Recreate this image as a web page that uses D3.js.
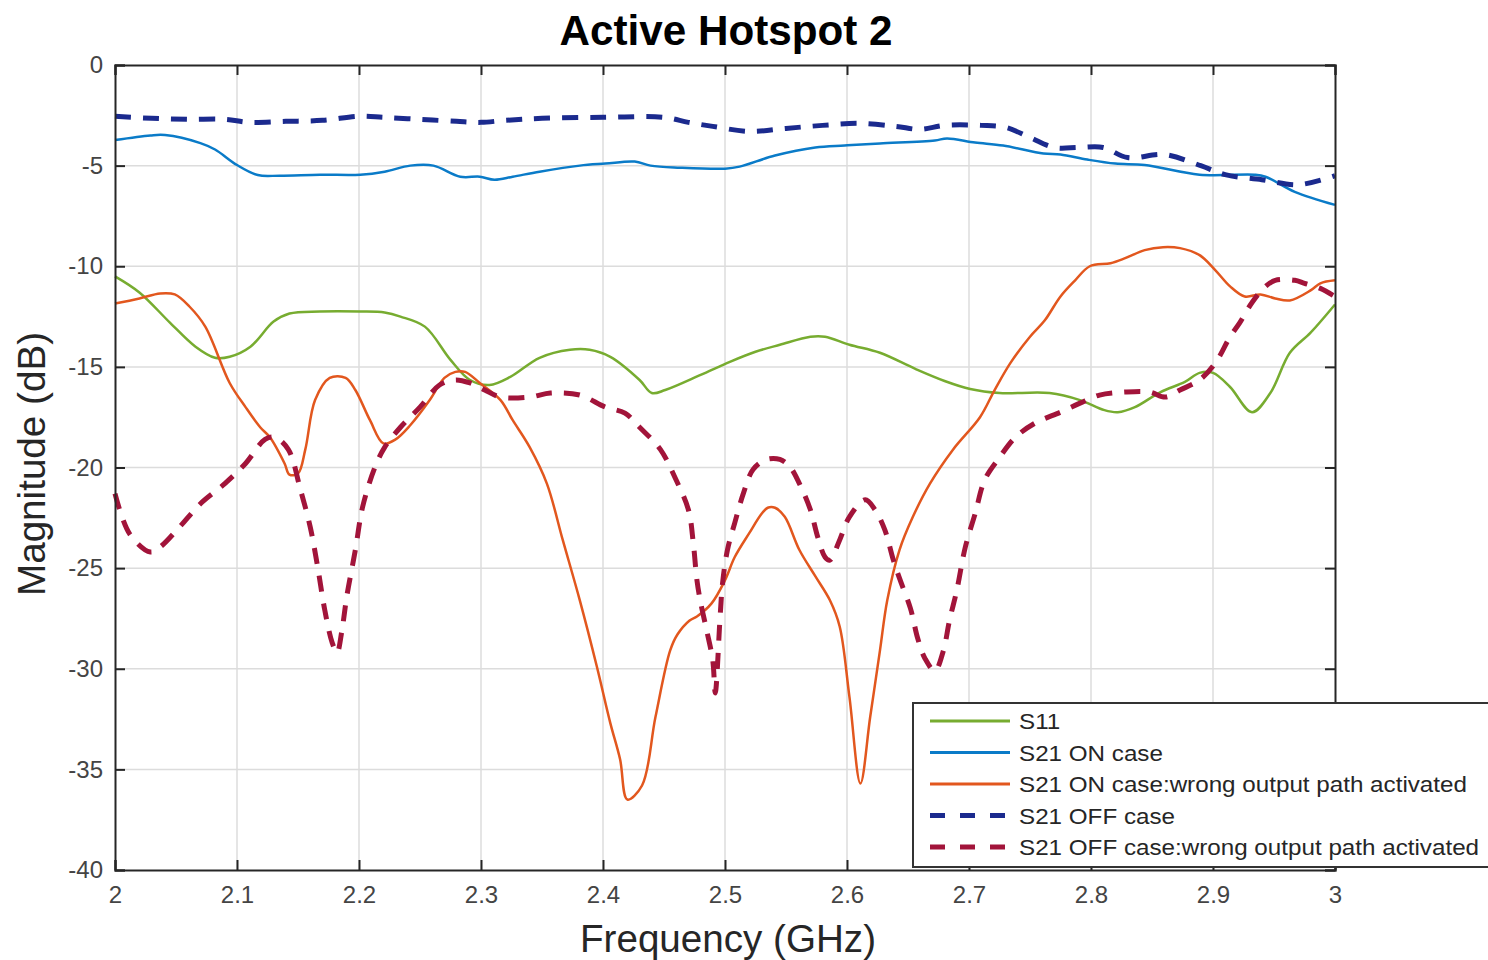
<!DOCTYPE html>
<html>
<head>
<meta charset="utf-8">
<script src="https://cdn.jsdelivr.net/npm/d3@7"></script>
<style>
  html, body { margin: 0; padding: 0; background: #fff; overflow: hidden; }
  svg { display: block; font-family: "Liberation Sans", Arial, Helvetica, sans-serif; }
</style>
</head>
<body>
<svg id="chart" width="1488" height="960"></svg>
<script>
// ---------- data ----------
const title = "Active Hotspot 2";
const xLabel = "Frequency (GHz)";
const yLabel = "Magnitude (dB)";
const xTicks = [2, 2.1, 2.2, 2.3, 2.4, 2.5, 2.6, 2.7, 2.8, 2.9, 3];
const yTicks = [0, -5, -10, -15, -20, -25, -30, -35, -40];
const seriesNames = ["S11", "S21 ON case", "S21 ON case:wrong output path activated", "S21 OFF case", "S21 OFF case:wrong output path activated"];

const s11Freq = [2.000,2.020,2.045,2.066,2.082,2.094,2.111,2.130,2.143,2.168,2.201,2.221,2.234,2.254,2.275,2.291,2.307,2.324,2.348,2.373,2.389,2.406,2.430,2.440,2.451,2.480,2.504,2.525,2.545,2.570,2.582,2.602,2.627,2.656,2.680,2.701,2.725,2.766,2.791,2.811,2.822,2.836,2.857,2.877,2.889,2.900,2.914,2.932,2.947,2.963,2.980,3.000];
const s11 = [-10.5,-11.3,-12.8,-14.0,-14.55,-14.5,-14.0,-12.75,-12.35,-12.25,-12.25,-12.3,-12.5,-13.0,-14.65,-15.65,-15.9,-15.5,-14.55,-14.15,-14.15,-14.5,-15.65,-16.3,-16.15,-15.4,-14.75,-14.25,-13.9,-13.5,-13.5,-13.9,-14.3,-15.1,-15.7,-16.1,-16.3,-16.3,-16.65,-17.15,-17.25,-17.0,-16.25,-15.75,-15.3,-15.3,-16.0,-17.25,-16.3,-14.3,-13.3,-11.9];

const onFreq = [2.000,2.029,2.041,2.070,2.082,2.100,2.117,2.135,2.168,2.201,2.221,2.242,2.261,2.283,2.299,2.311,2.326,2.348,2.381,2.402,2.426,2.439,2.463,2.500,2.512,2.541,2.574,2.598,2.627,2.672,2.682,2.705,2.728,2.761,2.775,2.797,2.820,2.844,2.889,2.934,2.943,2.967,3.000];
const onCase = [-3.73,-3.5,-3.48,-3.88,-4.2,-4.97,-5.47,-5.5,-5.45,-5.45,-5.3,-5.0,-5.0,-5.55,-5.55,-5.7,-5.55,-5.3,-5.0,-4.9,-4.8,-5.0,-5.1,-5.15,-5.05,-4.5,-4.1,-4.0,-3.9,-3.75,-3.65,-3.85,-4.0,-4.4,-4.45,-4.7,-4.9,-4.97,-5.45,-5.45,-5.55,-6.3,-6.95];

const onWrongFreq = [2.000,2.020,2.037,2.049,2.061,2.074,2.094,2.107,2.119,2.127,2.139,2.143,2.150,2.156,2.164,2.176,2.189,2.197,2.209,2.220,2.230,2.242,2.258,2.270,2.279,2.287,2.299,2.316,2.326,2.340,2.354,2.367,2.381,2.395,2.406,2.414,2.420,2.432,2.443,2.455,2.461,2.471,2.477,2.489,2.500,2.508,2.520,2.530,2.535,2.541,2.549,2.561,2.574,2.586,2.594,2.602,2.611,2.619,2.627,2.633,2.643,2.654,2.668,2.687,2.709,2.721,2.734,2.750,2.762,2.775,2.787,2.799,2.816,2.828,2.844,2.859,2.873,2.889,2.902,2.914,2.926,2.939,2.951,2.963,2.980,2.988,3.000];
const onWrong = [-11.85,-11.6,-11.35,-11.4,-12.0,-13.0,-15.8,-17.0,-18.0,-18.5,-19.8,-20.35,-20.3,-19.1,-16.65,-15.55,-15.55,-16.15,-17.65,-18.8,-18.6,-17.9,-16.65,-15.55,-15.25,-15.25,-15.8,-16.65,-17.65,-19.0,-20.8,-23.6,-26.6,-29.9,-32.7,-34.5,-36.5,-35.8,-32.4,-29.1,-28.3,-27.6,-27.4,-26.75,-25.6,-24.45,-23.25,-22.3,-22.0,-22.0,-22.45,-24.1,-25.4,-26.6,-27.9,-31.4,-35.7,-32.4,-29.1,-26.6,-24.1,-22.45,-20.8,-19.1,-17.5,-16.15,-14.8,-13.5,-12.7,-11.5,-10.7,-10.0,-9.85,-9.6,-9.2,-9.05,-9.1,-9.45,-10.2,-11.0,-11.5,-11.4,-11.6,-11.7,-11.2,-10.85,-10.7];

const offFreq = [2.000,2.030,2.060,2.090,2.110,2.140,2.170,2.200,2.220,2.250,2.280,2.300,2.320,2.350,2.400,2.450,2.470,2.490,2.520,2.550,2.580,2.610,2.640,2.660,2.680,2.710,2.730,2.750,2.770,2.790,2.810,2.830,2.860,2.890,2.910,2.940,2.970,3.000];
const offCase = [-2.55,-2.65,-2.7,-2.7,-2.85,-2.8,-2.75,-2.55,-2.6,-2.7,-2.8,-2.85,-2.75,-2.65,-2.6,-2.6,-2.85,-3.05,-3.3,-3.15,-3.0,-2.9,-3.05,-3.2,-3.0,-3.0,-3.1,-3.6,-4.1,-4.1,-4.1,-4.6,-4.45,-5.0,-5.45,-5.7,-5.95,-5.5];

const offWrongFreq = [2.000,2.012,2.029,2.037,2.053,2.070,2.090,2.107,2.123,2.131,2.142,2.152,2.160,2.166,2.172,2.178,2.182,2.186,2.190,2.197,2.203,2.213,2.221,2.234,2.250,2.266,2.279,2.291,2.303,2.316,2.340,2.357,2.381,2.402,2.418,2.430,2.447,2.459,2.470,2.474,2.477,2.480,2.485,2.490,2.492,2.496,2.498,2.502,2.508,2.515,2.523,2.534,2.545,2.553,2.561,2.570,2.576,2.582,2.586,2.594,2.602,2.615,2.623,2.631,2.638,2.643,2.652,2.658,2.664,2.672,2.679,2.684,2.690,2.697,2.705,2.713,2.725,2.738,2.754,2.775,2.791,2.807,2.828,2.848,2.861,2.873,2.889,2.902,2.914,2.922,2.932,2.943,2.951,2.967,2.975,2.988,3.000];
const offWrong = [-21.3,-23.3,-24.2,-23.95,-22.95,-21.8,-20.8,-19.8,-18.6,-18.5,-19.1,-21.1,-22.95,-24.9,-27.1,-28.7,-29.2,-28.1,-26.4,-24.1,-21.95,-20.0,-19.0,-18.0,-17.0,-15.9,-15.65,-15.8,-16.15,-16.5,-16.5,-16.3,-16.4,-17.0,-17.3,-18.0,-19.1,-20.5,-22.1,-23.75,-25.6,-26.7,-28.1,-29.6,-31.2,-27.4,-25.75,-24.1,-22.75,-21.3,-20.1,-19.6,-19.6,-19.95,-20.8,-22.1,-23.45,-24.45,-24.6,-23.6,-22.45,-21.6,-22.1,-23.1,-24.6,-25.5,-27.0,-28.5,-29.5,-30.1,-29.1,-27.6,-26.1,-23.95,-22.3,-20.6,-19.5,-18.5,-17.8,-17.25,-16.8,-16.4,-16.25,-16.25,-16.5,-16.15,-15.65,-14.8,-13.5,-12.8,-11.8,-11.0,-10.7,-10.7,-10.85,-11.1,-11.5];

// ---------- layout ----------
const svg = d3.select("#chart");
const L = 115, R = 1335, T = 65, B = 870;
const x = d3.scaleLinear().domain([2, 3]).range([L, R]);
const y = d3.scaleLinear().domain([-40, 0]).range([B, T]);

const textColor = "#262626";
const axisColor = "#262626";

function stretchTo(sel, target) {
  sel.each(function () {
    d3.select(this).attr("textLength", target).attr("lengthAdjust", "spacingAndGlyphs");
  });
}
function stretchBy(sel, k) {
  sel.each(function () {
    const w = this.getComputedTextLength();
    d3.select(this).attr("textLength", w * k).attr("lengthAdjust", "spacingAndGlyphs");
  });
}

// grid
const grid = svg.append("g");
grid.selectAll("line.vx").data(xTicks.slice(1, -1)).join("line")
  .attr("x1", d => x(d)).attr("x2", d => x(d)).attr("y1", T).attr("y2", B)
  .attr("stroke", "#dcdcdc").attr("stroke-width", 1.5);
grid.selectAll("line.hy").data(yTicks.slice(1, -1)).join("line")
  .attr("x1", L).attr("x2", R).attr("y1", d => y(d)).attr("y2", d => y(d))
  .attr("stroke", "#dcdcdc").attr("stroke-width", 1.5);

// series
const series = [
  { name: seriesNames[0], f: s11Freq, v: s11, color: "#77AC30", width: 2.5, dash: null },
  { name: seriesNames[1], f: onFreq, v: onCase, color: "#0A7BC8", width: 2.5, dash: null },
  { name: seriesNames[2], f: onWrongFreq, v: onWrong, color: "#E2571E", width: 2.5, dash: null },
  { name: seriesNames[3], f: offFreq, v: offCase, color: "#1B2A8E", width: 5, dash: "16,12" },
  { name: seriesNames[4], f: offWrongFreq, v: offWrong, color: "#A2143A", width: 5, dash: "16,12" }
];

const line = d3.line().x(d => x(d[0])).y(d => y(d[1])).curve(d3.curveCatmullRom.alpha(0.5));
const plot = svg.append("g");
series.forEach(s => {
  const pts = s.f.map((f, i) => [f, s.v[i]]);
  plot.append("path").datum(pts)
    .attr("d", line).attr("fill", "none")
    .attr("stroke", s.color).attr("stroke-width", s.width)
    .attr("stroke-dasharray", s.dash)
    .attr("stroke-linejoin", "round");
});

// axes box and ticks (inward)
const fmt = d => String(d);
const xAxisB = d3.axisBottom(x).tickValues(xTicks).tickSize(-10).tickPadding(16).tickFormat(fmt);
const yAxisL = d3.axisLeft(y).tickValues(yTicks).tickSize(-10).tickPadding(12).tickFormat(fmt);
const xAxisT = d3.axisTop(x).tickValues(xTicks).tickSize(-10).tickFormat("");
const yAxisR = d3.axisRight(y).tickValues(yTicks).tickSize(-10).tickFormat("");

function styleAxis(g) {
  g.select(".domain").attr("stroke", axisColor).attr("stroke-width", 2);
  g.selectAll(".tick line").attr("stroke", axisColor).attr("stroke-width", 2);
  g.selectAll(".tick text").attr("fill", "#444").style("font-size", "24px").style("font-family", "Liberation Sans, Arial, sans-serif");
}
svg.append("g").attr("transform", `translate(0,${B})`).call(xAxisB).call(styleAxis);
svg.append("g").attr("transform", `translate(${L},0)`).call(yAxisL).call(styleAxis);
svg.append("g").attr("transform", `translate(0,${T})`).call(xAxisT).call(styleAxis);
svg.append("g").attr("transform", `translate(${R},0)`).call(yAxisR).call(styleAxis);

// title & labels
svg.append("text").attr("x", 726).attr("y", 45)
  .attr("text-anchor", "middle").attr("fill", "#000")
  .style("font-size", "42px").style("font-weight", "bold").text(title)
  .call(stretchTo, 333);
svg.append("text").attr("x", 728).attr("y", 952)
  .attr("text-anchor", "middle").attr("fill", textColor)
  .style("font-size", "38px").text(xLabel)
  .call(stretchTo, 296);
svg.append("text").attr("transform", `translate(45,464) rotate(-90)`)
  .attr("text-anchor", "middle").attr("fill", textColor)
  .style("font-size", "38px").text(yLabel)
  .call(stretchTo, 264);

// legend
const lg = svg.append("g").attr("transform", "translate(913,703)");
lg.append("rect").attr("x", 0).attr("y", 0).attr("width", 600).attr("height", 164)
  .attr("fill", "#fff").attr("stroke", "#333").attr("stroke-width", 2);
series.forEach((s, i) => {
  const yy = 18 + i * 31.5;
  lg.append("line").attr("x1", 17).attr("x2", 97).attr("y1", yy).attr("y2", yy)
    .attr("stroke", s.color).attr("stroke-width", s.dash ? 5 : 3)
    .attr("stroke-dasharray", s.dash ? "15,15" : null);
  lg.append("text").attr("x", 106).attr("y", yy + 8)
    .attr("fill", textColor).style("font-size", "22px").text(s.name)
    .call(stretchBy, 1.1);
});
</script>
</body>
</html>
